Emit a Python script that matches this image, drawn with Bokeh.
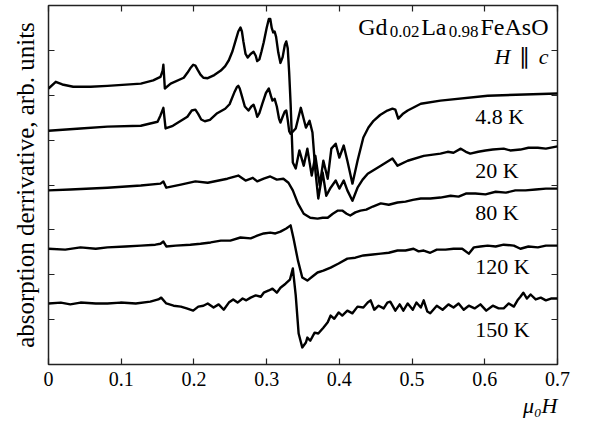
from bokeh.plotting import figure
from bokeh.models import (Label, LinearAxis, FixedTicker, Range1d, Title,
                          CustomLabelingPolicy)
from bokeh.embed import file_html
from bokeh.resources import INLINE

# ---------------- data ----------------
field_ticks = [0, 0.1, 0.2, 0.3, 0.4, 0.5, 0.6, 0.7]
field_tick_labels = ["0", "0.1", "0.2", "0.3", "0.4", "0.5", "0.6", "0.7"]
offset_ticks = [1, 2, 3, 4, 5, 6, 7]
temperature_labels = ["4.8 K", "20 K", "80 K", "120 K", "150 K"]

# (mu0 H [T], absorption derivative [arb. units, stacked])
curve_4p8K = [
    (0.000, 6.15), (0.010, 6.30), (0.019, 6.24), (0.034, 6.19), (0.058, 6.19),
    (0.081, 6.21), (0.127, 6.26), (0.144, 6.33), (0.154, 6.41), (0.157, 6.55),
    (0.158, 6.68), (0.160, 6.15), (0.168, 6.26), (0.186, 6.39), (0.191, 6.50),
    (0.195, 6.60), (0.199, 6.68), (0.202, 6.66), (0.205, 6.57), (0.209, 6.46),
    (0.213, 6.39), (0.219, 6.38), (0.228, 6.45), (0.237, 6.55), (0.243, 6.65),
    (0.248, 6.78), (0.253, 6.98), (0.257, 7.20), (0.261, 7.42), (0.264, 7.51),
    (0.266, 7.42), (0.268, 7.20), (0.271, 6.92), (0.274, 6.84), (0.278, 6.92),
    (0.282, 6.97), (0.285, 6.88), (0.287, 6.76), (0.290, 6.80), (0.293, 6.98),
    (0.296, 7.18), (0.300, 7.50), (0.303, 7.70), (0.305, 7.70), (0.307, 7.50),
    (0.309, 7.40), (0.311, 7.42), (0.313, 7.30), (0.316, 6.95), (0.319, 6.72),
    (0.322, 6.85), (0.325, 7.12), (0.327, 7.20), (0.329, 7.05), (0.331, 6.50),
    (0.333, 5.80), (0.336, 4.50), (0.340, 4.37), (0.345, 4.77), (0.351, 4.43),
    (0.356, 4.81), (0.362, 4.21), (0.367, 4.65), (0.373, 3.99), (0.378, 4.54),
    (0.384, 4.14), (0.389, 4.81), (0.395, 4.92), (0.400, 4.61), (0.406, 4.88),
    (0.411, 4.54), (0.418, 4.03), (0.425, 4.54), (0.433, 5.06), (0.440, 5.28),
    (0.447, 5.43), (0.456, 5.56), (0.466, 5.66), (0.473, 5.70), (0.477, 5.68),
    (0.481, 5.48), (0.487, 5.58), (0.494, 5.66), (0.512, 5.81), (0.539, 5.88),
    (0.604, 5.99), (0.700, 6.04),
]

curve_20K = [
    (0.000, 5.21), (0.044, 5.26), (0.081, 5.30), (0.127, 5.32), (0.150, 5.41),
    (0.154, 5.55), (0.158, 5.72), (0.161, 5.26), (0.171, 5.32), (0.191, 5.52),
    (0.197, 5.66), (0.202, 5.68), (0.206, 5.58), (0.210, 5.46), (0.215, 5.42),
    (0.222, 5.45), (0.232, 5.60), (0.243, 5.70), (0.249, 5.80), (0.256, 6.08),
    (0.259, 6.18), (0.261, 6.21), (0.263, 6.15), (0.266, 5.98), (0.270, 5.75),
    (0.275, 5.66), (0.279, 5.75), (0.282, 5.79), (0.285, 5.65), (0.287, 5.52),
    (0.290, 5.60), (0.294, 5.81), (0.299, 6.05), (0.303, 6.15), (0.306, 5.98),
    (0.308, 5.88), (0.311, 5.92), (0.314, 5.75), (0.317, 5.48), (0.319, 5.39),
    (0.322, 5.52), (0.325, 5.64), (0.327, 5.66), (0.329, 5.45), (0.331, 5.20),
    (0.333, 5.14), (0.340, 5.26), (0.347, 5.72), (0.354, 5.28), (0.359, 5.43),
    (0.363, 5.17), (0.367, 4.32), (0.371, 3.70), (0.377, 4.28), (0.382, 3.76),
    (0.388, 3.94), (0.395, 4.10), (0.400, 3.92), (0.406, 4.10), (0.411, 3.88),
    (0.418, 3.65), (0.425, 3.94), (0.432, 4.12), (0.439, 4.25), (0.457, 4.43),
    (0.473, 4.59), (0.480, 4.43), (0.494, 4.54), (0.516, 4.65), (0.539, 4.70),
    (0.549, 4.74), (0.557, 4.72), (0.567, 4.81), (0.574, 4.74), (0.580, 4.70),
    (0.591, 4.74), (0.601, 4.77), (0.611, 4.79), (0.626, 4.81), (0.635, 4.77),
    (0.649, 4.79), (0.660, 4.83), (0.673, 4.83), (0.684, 4.81), (0.700, 4.86),
]

curve_80K = [
    (0.000, 3.88), (0.030, 3.90), (0.081, 3.94), (0.127, 3.99), (0.154, 4.03),
    (0.158, 4.08), (0.162, 3.94), (0.182, 4.01), (0.202, 4.08), (0.219, 4.05),
    (0.246, 4.14), (0.261, 4.21), (0.271, 4.10), (0.281, 4.16), (0.287, 4.08),
    (0.296, 4.14), (0.305, 4.19), (0.314, 4.12), (0.323, 4.14), (0.330, 4.05),
    (0.336, 3.88), (0.343, 3.59), (0.351, 3.36), (0.360, 3.27), (0.370, 3.25),
    (0.377, 3.27), (0.384, 3.27), (0.391, 3.36), (0.398, 3.43), (0.404, 3.43),
    (0.410, 3.36), (0.415, 3.32), (0.422, 3.39), (0.429, 3.43), (0.437, 3.45),
    (0.446, 3.52), (0.457, 3.59), (0.468, 3.56), (0.480, 3.61), (0.491, 3.63),
    (0.501, 3.67), (0.512, 3.70), (0.525, 3.70), (0.539, 3.72), (0.553, 3.76),
    (0.564, 3.74), (0.574, 3.81), (0.587, 3.81), (0.601, 3.79), (0.615, 3.85),
    (0.629, 3.83), (0.642, 3.88), (0.656, 3.88), (0.670, 3.90), (0.684, 3.92),
    (0.700, 3.92),
]

curve_120K = [
    (0.000, 2.58), (0.023, 2.56), (0.044, 2.61), (0.065, 2.58), (0.081, 2.61),
    (0.106, 2.63), (0.127, 2.65), (0.147, 2.67), (0.154, 2.69), (0.158, 2.74),
    (0.162, 2.63), (0.175, 2.65), (0.195, 2.67), (0.209, 2.69), (0.223, 2.72),
    (0.237, 2.76), (0.250, 2.76), (0.264, 2.83), (0.278, 2.81), (0.287, 2.87),
    (0.296, 2.92), (0.305, 2.94), (0.312, 2.92), (0.319, 2.96), (0.327, 3.03),
    (0.333, 3.10), (0.337, 2.81), (0.343, 2.32), (0.349, 1.94), (0.356, 1.87),
    (0.363, 1.96), (0.370, 2.05), (0.378, 2.09), (0.388, 2.16), (0.399, 2.25),
    (0.411, 2.36), (0.422, 2.38), (0.433, 2.43), (0.446, 2.45), (0.457, 2.47),
    (0.468, 2.49), (0.480, 2.54), (0.491, 2.54), (0.502, 2.58), (0.509, 2.52),
    (0.516, 2.54), (0.525, 2.49), (0.534, 2.56), (0.546, 2.56), (0.557, 2.58),
    (0.569, 2.58), (0.578, 2.47), (0.585, 2.61), (0.594, 2.63), (0.604, 2.65),
    (0.615, 2.63), (0.626, 2.67), (0.640, 2.65), (0.649, 2.58), (0.660, 2.63),
    (0.673, 2.61), (0.684, 2.65), (0.700, 2.65),
]

curve_150K = [
    (0.000, 1.36), (0.017, 1.38), (0.030, 1.34), (0.044, 1.38), (0.065, 1.36),
    (0.081, 1.36), (0.099, 1.38), (0.120, 1.36), (0.140, 1.40), (0.151, 1.45),
    (0.155, 1.49), (0.162, 1.36), (0.172, 1.31), (0.182, 1.29), (0.190, 1.25),
    (0.199, 1.20), (0.206, 1.29), (0.213, 1.31), (0.219, 1.36), (0.227, 1.27),
    (0.234, 1.34), (0.241, 1.22), (0.248, 1.38), (0.254, 1.45), (0.260, 1.38),
    (0.267, 1.47), (0.272, 1.43), (0.278, 1.49), (0.285, 1.54), (0.292, 1.51),
    (0.296, 1.60), (0.303, 1.65), (0.308, 1.69), (0.314, 1.60), (0.319, 1.71),
    (0.326, 1.80), (0.332, 1.89), (0.336, 2.14), (0.340, 1.54), (0.344, 0.69),
    (0.349, 0.38), (0.354, 0.49), (0.356, 0.60), (0.360, 0.53), (0.366, 0.71),
    (0.371, 0.69), (0.378, 0.82), (0.384, 0.94), (0.388, 1.09), (0.393, 1.02),
    (0.399, 1.16), (0.404, 1.09), (0.411, 1.20), (0.418, 1.14), (0.425, 1.29),
    (0.433, 1.27), (0.439, 1.38), (0.443, 1.43), (0.448, 1.22), (0.454, 1.31),
    (0.461, 1.25), (0.466, 1.38), (0.470, 1.40), (0.477, 1.20), (0.483, 1.34),
    (0.488, 1.20), (0.494, 1.36), (0.501, 1.22), (0.506, 1.38), (0.512, 1.27),
    (0.516, 1.43), (0.521, 1.18), (0.525, 1.14), (0.534, 1.31), (0.542, 1.22),
    (0.550, 1.34), (0.557, 1.27), (0.564, 1.36), (0.571, 1.22), (0.578, 1.31),
    (0.586, 1.25), (0.594, 1.34), (0.602, 1.20), (0.611, 1.31), (0.619, 1.25),
    (0.626, 1.25), (0.633, 1.36), (0.640, 1.29), (0.645, 1.43), (0.649, 1.51),
    (0.653, 1.60), (0.658, 1.47), (0.663, 1.56), (0.670, 1.45), (0.677, 1.49),
    (0.684, 1.43), (0.691, 1.47), (0.700, 1.47),
]

curves = [curve_4p8K, curve_20K, curve_80K, curve_120K, curve_150K]

# ---------------- figure ----------------
FONT = "Liberation Serif"

p = figure(width=590, height=430, output_backend="svg", toolbar_location=None,
           x_range=Range1d(0, 0.7), y_range=Range1d(0, 8),
           x_axis_type=None, y_axis_type=None,
           min_border_left=48, min_border_right=33,
           min_border_top=5, min_border_bottom=66)
p.background_fill_color = "white"
p.border_fill_color = "white"
p.outline_line_color = "#222222"
p.outline_line_width = 1.5
p.grid.visible = False

HIDE_LABELS = "for (const i of indices) { indices.unset(i) }\nreturn indices"


def style_axis(ax, show_labels):
    ax.axis_line_color = None
    ax.major_tick_in = 6
    ax.major_tick_out = 0
    ax.major_tick_line_color = "#222222"
    ax.major_tick_line_width = 1.2
    ax.minor_tick_line_color = None
    ax.major_label_text_font = FONT
    ax.major_label_text_color = "black"
    if show_labels:
        ax.major_label_text_font_size = "20px"
        ax.major_label_standoff = 7
    else:
        ax.major_label_text_font_size = "0px"
        ax.major_label_standoff = 0
        ax.major_label_policy = CustomLabelingPolicy(code=HIDE_LABELS)


xb = LinearAxis(ticker=FixedTicker(ticks=field_ticks),
                major_label_overrides=dict(zip(field_ticks, field_tick_labels)))
style_axis(xb, True)
p.add_layout(xb, "below")

xt = LinearAxis(ticker=FixedTicker(ticks=field_ticks))
style_axis(xt, False)
p.add_layout(xt, "above")

yl = LinearAxis(ticker=FixedTicker(ticks=offset_ticks))
style_axis(yl, False)
yl.axis_label = "absorption derrivative, arb. units"
yl.axis_label_text_font = FONT
yl.axis_label_text_font_size = "25px"
yl.axis_label_text_font_style = "normal"
yl.axis_label_text_color = "black"
yl.axis_label_standoff = 10
p.add_layout(yl, "left")

yr = LinearAxis(ticker=FixedTicker(ticks=offset_ticks))
style_axis(yr, False)
p.add_layout(yr, "right")

# x-axis quantity, right-aligned below the tick labels
p.add_layout(Title(text="\u03bc\u2080H", align="right", text_font=FONT,
                   text_font_size="22px", text_font_style="italic",
                   text_color="black", standoff=4), "below")

for c in curves:
    xs = [pt[0] for pt in c]
    ys = [pt[1] for pt in c]
    p.line(xs, ys, line_color="black", line_width=2.4, line_join="round")

# temperature labels
label_y = [5.53, 4.32, 3.39, 2.19, 0.78]
for t, ly in zip(temperature_labels, label_y):
    p.add_layout(Label(x=0.587, y=ly, text=t, text_font=FONT, text_font_size="22px",
                       text_color="black", text_align="left", text_baseline="alphabetic"))

# compound formula  Gd0.02La0.98FeAsO  (right-aligned pieces)
formula = [("FeAsO", "24px", -9, 7.53),
           ("0.98", "17px", -79, 7.42),
           ("La", "24px", -111, 7.53),
           ("0.02", "17px", -138, 7.42),
           ("Gd", "24px", -170, 7.53)]
for txt, fs, dx, yy in formula:
    p.add_layout(Label(x=0.7, y=yy, x_offset=dx, text=txt, text_font=FONT,
                       text_font_size=fs, text_color="black",
                       text_align="right", text_baseline="alphabetic"))

# H || c
orientation = [("c", "italic", -9), ("\u2225", "normal", -28), ("H", "italic", -47)]
for txt, st, dx in orientation:
    p.add_layout(Label(x=0.7, y=6.86, x_offset=dx, text=txt, text_font=FONT,
                       text_font_size="22px", text_font_style=st, text_color="black",
                       text_align="right", text_baseline="alphabetic"))

open("out.html", "w").write(file_html(p, INLINE))
